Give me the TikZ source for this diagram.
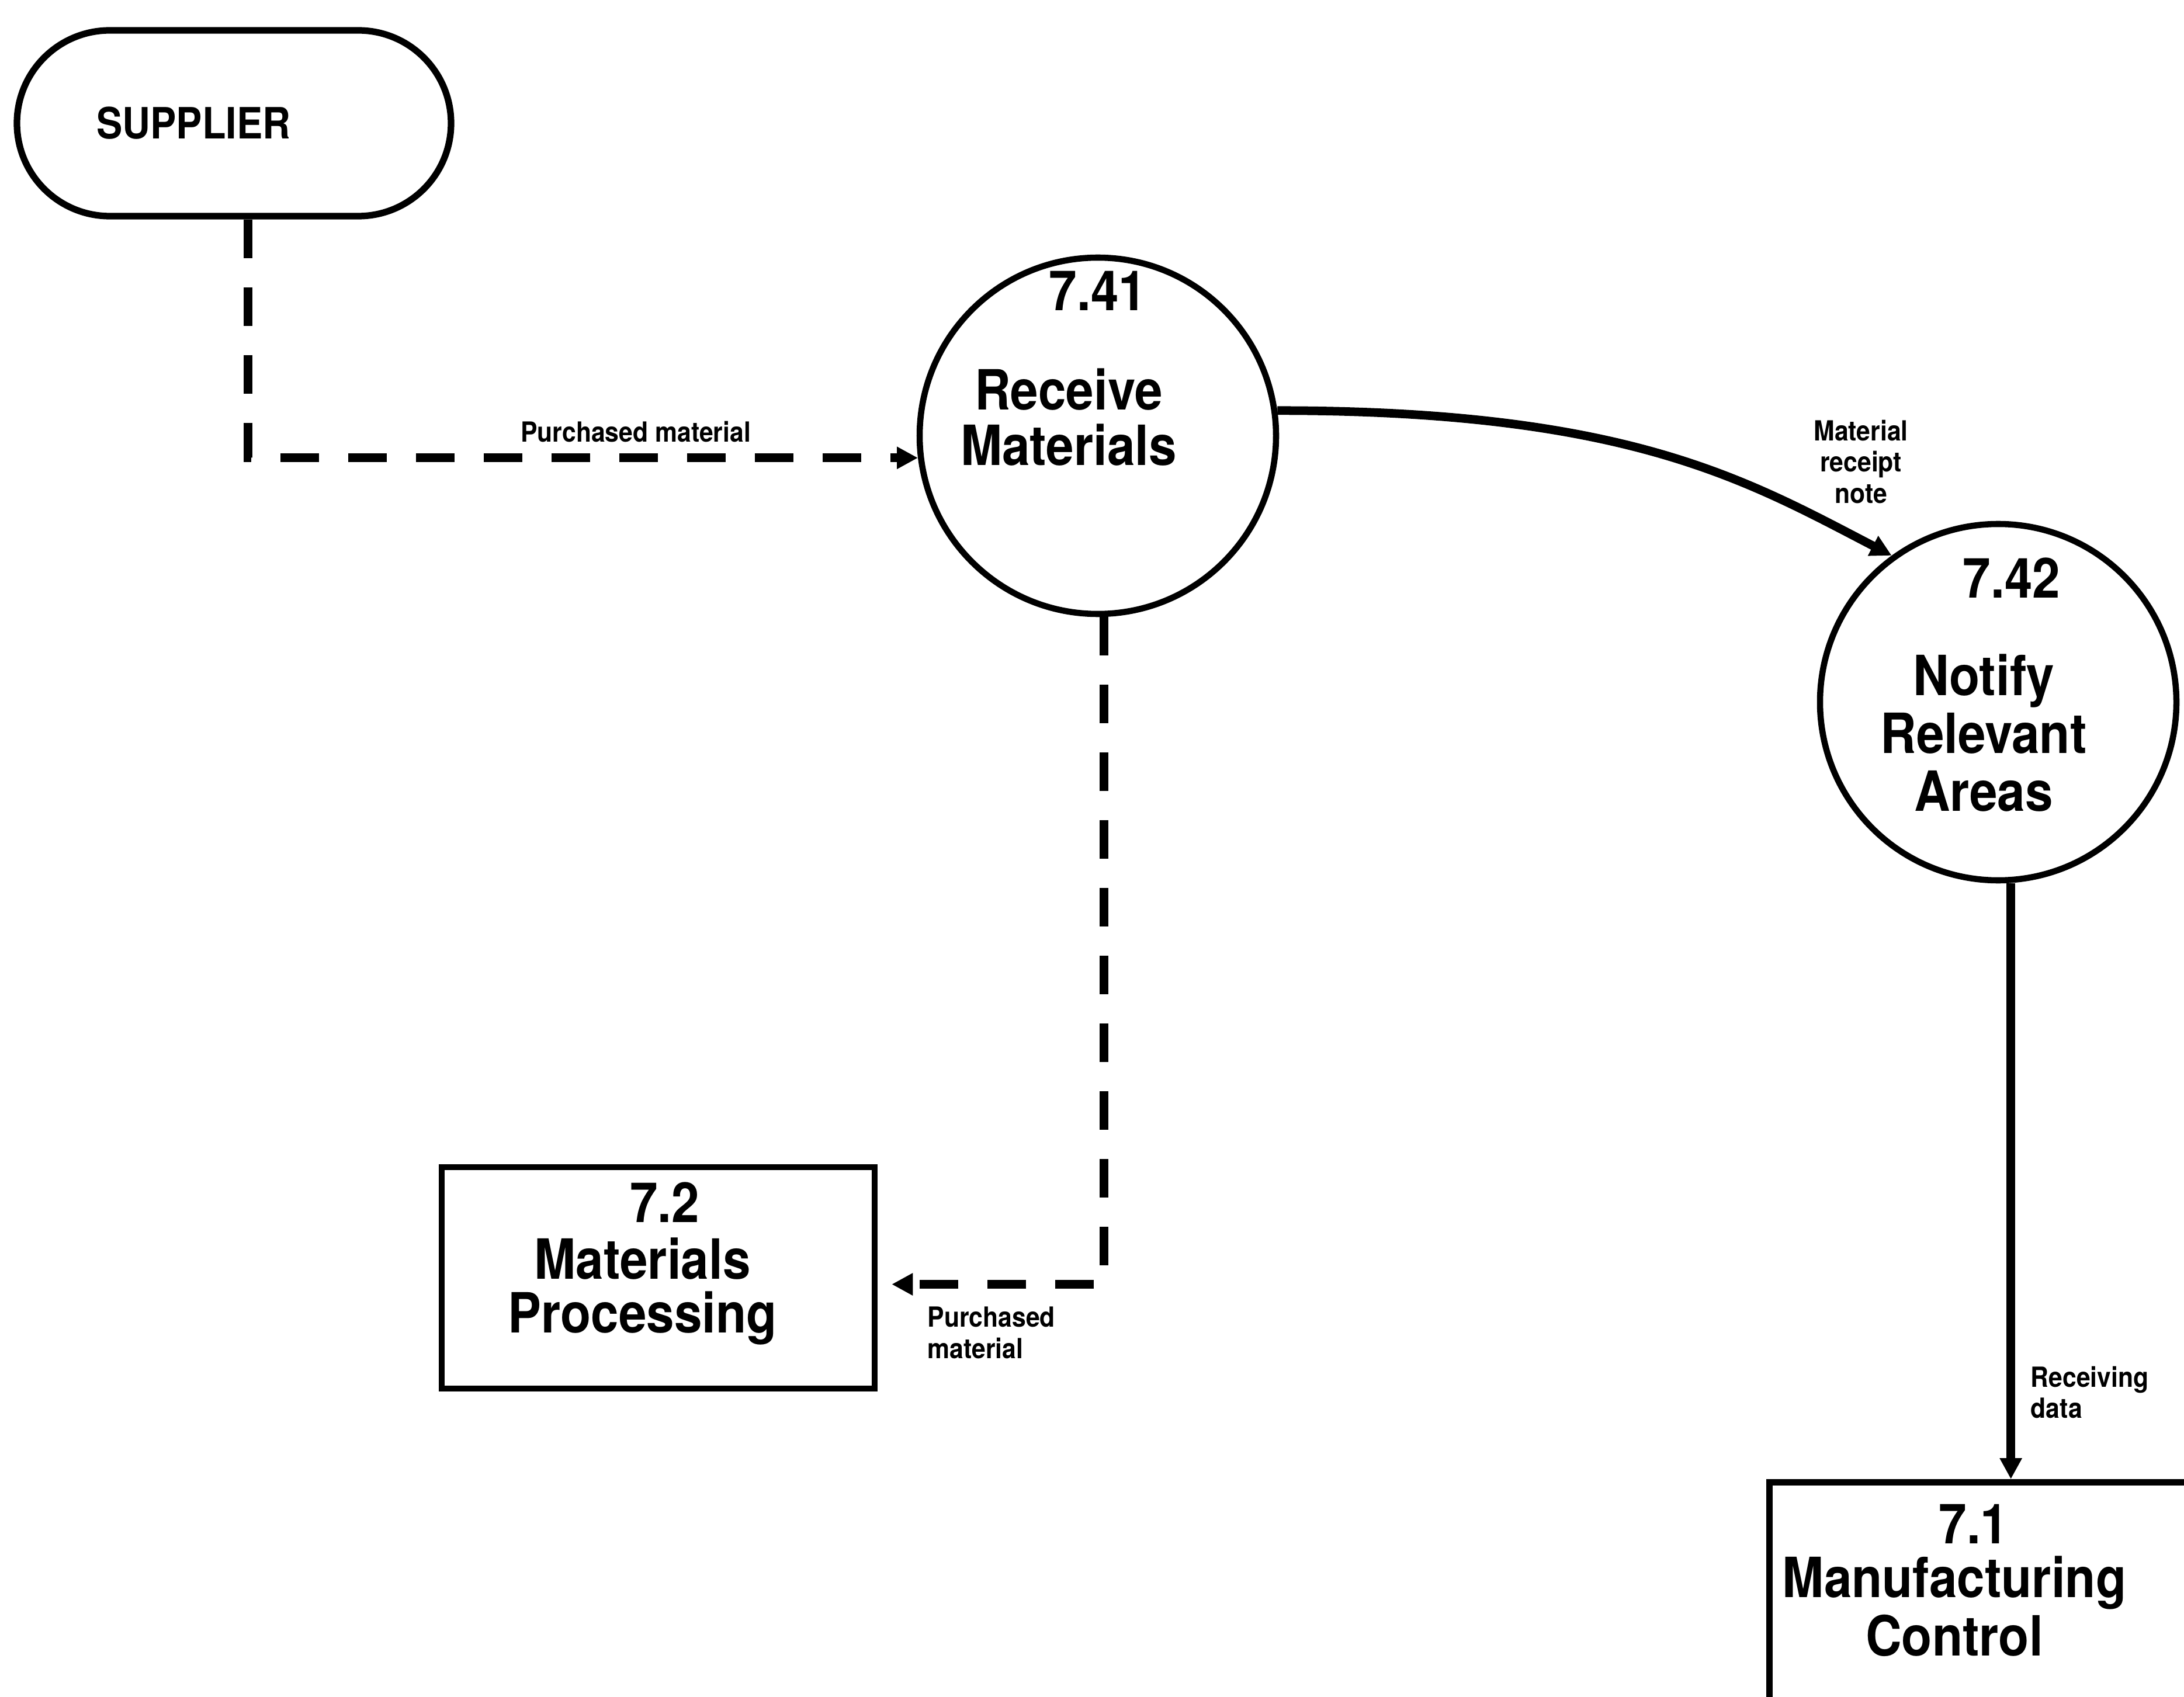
\documentclass[tikz,border=0pt]{standalone}
\usepackage{fontspec}
\newfontfamily\dfdfont{TeX Gyre Heros}[FakeStretch=0.9]
\usetikzlibrary{shapes.misc, arrows.meta, positioning, calc}
\tikzset{
  terminator/.style={rounded rectangle, draw, line width=3.2pt,
    minimum width=7.43cm, minimum height=3.18cm, inner sep=0pt,
    font=\dfdfont\bfseries\fontsize{21}{24}\selectfont},
  process/.style={circle, draw, line width=3pt, minimum size=6.1cm, inner sep=0pt},
  procbox/.style={rectangle, draw, line width=3pt, inner sep=0pt},
  pnum/.style={anchor=base, inner sep=0pt,
    font=\dfdfont\bfseries\fontsize{27}{27}\selectfont},
  pname/.style={anchor=north, align=center, inner sep=0pt,
    font=\dfdfont\bfseries\fontsize{27}{27}\selectfont},
  flowlabel/.style={inner sep=0pt,
    font=\dfdfont\bfseries\fontsize{13.5}{15.3}\selectfont},
  flow/.style={line width=4.2pt, -{Triangle[length=3.6mm, width=3.6mm]}},
  dashflow/.style={flow, dash pattern=on 6.6mm off 5mm}
}

\begin{document}
\begin{tikzpicture}
  \useasboundingbox (0,0) rectangle (37.38,-29.05);
  \clip (0,0) rectangle (37.38,-29.05);

  % External entity
  \node[terminator] (supplier) at (4.005,-2.11) {SUPPLIER\hspace*{1.38cm}};

  % Process 7.41
  \node[process] (recv) at (18.79,-7.46) {};
  \node[pnum] (recvnum) at ($(recv)+(0,2.14)$) {7.41};
  \node[pname] (recvname) at ($(recv)+(-0.50,1.16)$) {Receive\\Materials};

  % Process 7.42
  \node[process] (notify) at (34.20,-12.02) {};
  \node[pnum] (notifynum) at ($(notify)+(0.23,1.78)$) {7.42};
  \node[pname, font=\dfdfont\bfseries\fontsize{27}{28.2}\selectfont] (notifyname)
    at ($(notify)+(-0.25,0.83)$) {Notify\\Relevant\\Areas};

  % Other systems
  \node[procbox, minimum width=7.41cm, minimum height=3.79cm] (proc) at (11.265,-21.875) {};
  \node[pnum] (procnum) at ($(proc)+(0.11,0.95)$) {7.2};
  \node[pname, font=\dfdfont\bfseries\fontsize{27}{26.2}\selectfont] (procname)
    at ($(proc)+(-0.27,0.69)$) {Materials\\Processing};

  \node[procbox, anchor=north west, minimum width=8cm, minimum height=4.6cm] (mfg) at (30.23,-25.32) {};
  \node[pnum] (mfgnum) at ($(mfg.north west)+(3.55,-1.10)$) {7.1};
  \node[pname, font=\dfdfont\bfseries\fontsize{27}{28.5}\selectfont] (mfgname)
    at ($(mfg.north west)+(3.22,-1.31)$) {Manufacturing\\Control};

  % Data flows
  \draw[dashflow] ([xshift=2.4mm]supplier.south) |- (recv.187);
  \draw[dashflow, shorten >=2.4mm] (recv.-88) |- ([yshift=-1.1mm]proc.east);
  \draw[flow] (recv.8) .. controls +(6,0) and +(-2.5,1.3) .. (notify.126);
  \draw[flow] (notify.-86) -- (notify.-86 |- mfg.north);

  % Flow labels
  \node[flowlabel, anchor=base] (purchlbl) at (10.88,-7.57) {Purchased material};
  \node[flowlabel, anchor=north west, align=left] (purchlbl2) at (15.87,-22.36) {Purchased\\material};
  \node[flowlabel, anchor=north, align=center] (receiptlbl) at (31.85,-7.18) {Material\\receipt\\note};
  \node[flowlabel, anchor=north west, align=left] (recvlbl) at (34.75,-23.38) {Receiving\\data};
\end{tikzpicture}
\end{document}
